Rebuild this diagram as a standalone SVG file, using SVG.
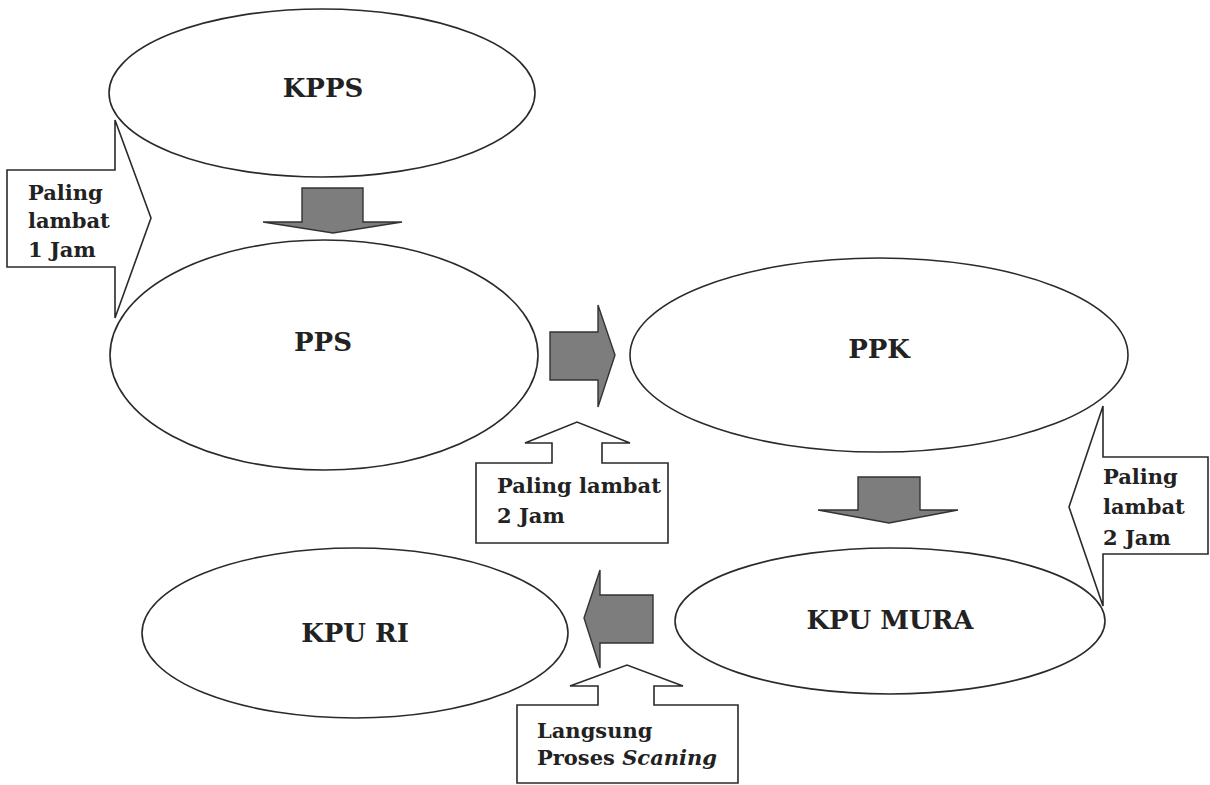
<svg xmlns="http://www.w3.org/2000/svg" width="1210" height="785" viewBox="0 0 1210 785">
<style>
.node{fill:#fff;stroke:#2a2a2a;stroke-width:1.6}
.lbl{font-family:"DejaVu Serif","Liberation Serif",serif;font-weight:bold;font-size:26px;fill:#222;text-anchor:middle}
.call{fill:#fff;stroke:#2a2a2a;stroke-width:1.6;stroke-linejoin:miter}
.ctext{font-family:"DejaVu Serif","Liberation Serif",serif;font-weight:bold;font-size:21px;fill:#222}
.flow{fill:#7d7d7d;stroke:#333;stroke-width:1.4;stroke-linejoin:miter}
</style>
<rect width="1210" height="785" fill="#fff"/>
<g id="node-kpps">
<ellipse class="node" cx="322" cy="93" rx="213" ry="84"/>
<text class="lbl" x="323" y="97">KPPS</text>
</g>
<g id="node-pps">
<ellipse class="node" cx="324" cy="355" rx="214" ry="115"/>
<text class="lbl" x="323" y="351">PPS</text>
</g>
<g id="node-ppk">
<ellipse class="node" cx="879" cy="355" rx="249" ry="97"/>
<text class="lbl" x="879" y="358">PPK</text>
</g>
<g id="node-kpumura">
<ellipse class="node" cx="890" cy="621" rx="215" ry="73"/>
<text class="lbl" x="890" y="629">KPU MURA</text>
</g>
<g id="node-kpuri">
<ellipse class="node" cx="355" cy="633" rx="213" ry="85"/>
<text class="lbl" x="355" y="642">KPU RI</text>
</g>
<g id="callout-1jam">
<polygon class="call" points="7,170 115,170 115,120 151,218 115,318 115,267 7,267"/>
<text class="ctext" x="28" y="200">Paling</text>
<text class="ctext" x="28" y="228">lambat</text>
<text class="ctext" x="28" y="257">1 Jam</text>
</g>
<g id="callout-2jam-a">
<polygon class="call" points="476,463 552,463 552,443 525,443 577,422 630,443 602,443 602,463 668,463 668,543 476,543"/>
<text class="ctext" x="497" y="493">Paling lambat</text>
<text class="ctext" x="497" y="523">2 Jam</text>
</g>
<g id="callout-2jam-b">
<polygon class="call" points="1208,457 1103,457 1103,406 1069,507 1103,606 1103,554 1208,554"/>
<text class="ctext" x="1103" y="484">Paling</text>
<text class="ctext" x="1103" y="514">lambat</text>
<text class="ctext" x="1103" y="545">2 Jam</text>
</g>
<g id="callout-scan">
<polygon class="call" points="517,705 598,705 598,686 570,686 627,665 683,686 654,686 654,705 738,705 738,783 517,783"/>
<text class="ctext" x="537" y="738">Langsung</text>
<text class="ctext" x="537" y="765">Proses <tspan font-style="italic">Scaning</tspan></text>
</g>
<g id="connectors">
<polygon class="flow" points="302,188 363,188 363,222 402,222 333,233 263,222 302,222"/>
<polygon class="flow" points="550,332 598,332 598,305 615,355 598,407 598,380 550,380"/>
<polygon class="flow" points="858,477 920,477 920,510 958,510 889,523 818,510 858,510"/>
<polygon class="flow" points="653,595 600,595 600,570 584,618 600,668 600,643 653,643"/>
</g>
</svg>
